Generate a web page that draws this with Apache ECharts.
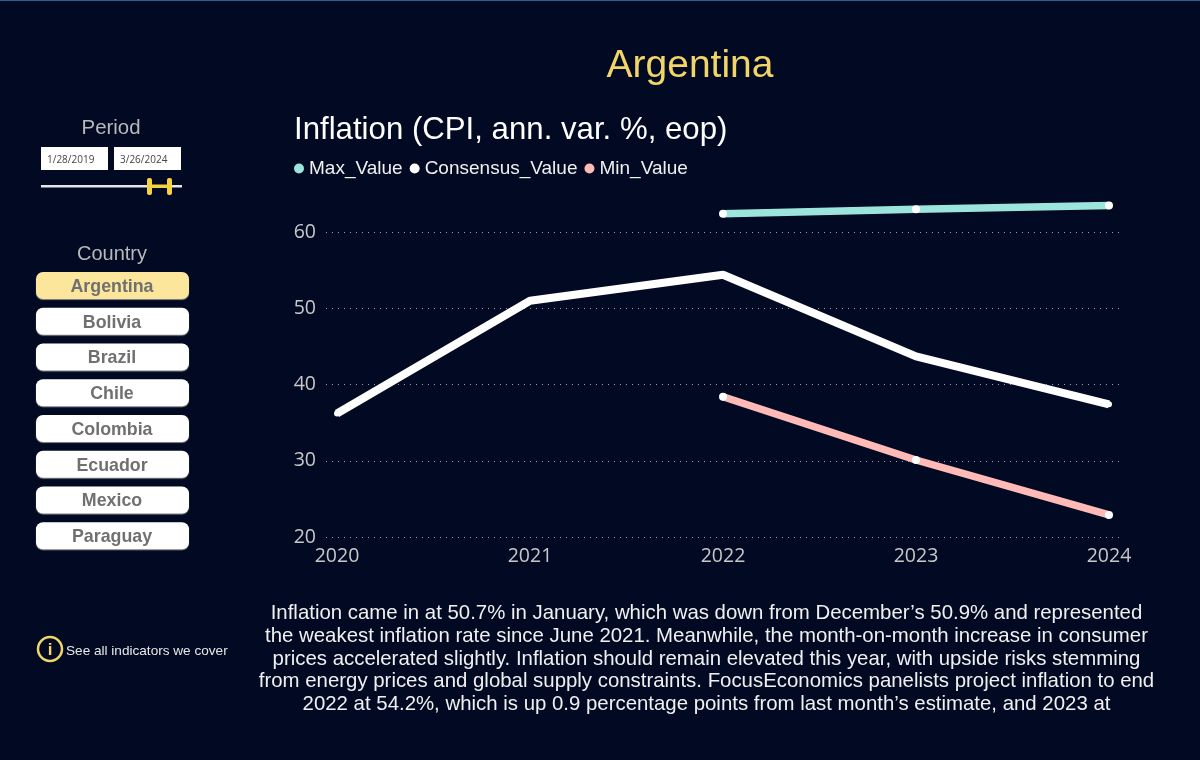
<!DOCTYPE html>
<html>

<head>
    <meta charset="utf-8">
    <title>Argentina inflation</title>
    <script src="https://cdn.jsdelivr.net/npm/echarts@6/dist/echarts.min.js"></script>
    <style>
        body { margin: 0; background: #010a22; }
    </style>
</head>

<body>
    <div id="main" style="width: 1200px;height:760px;"></div>
    <script type="text/javascript">
        var years = [2020, 2021, 2022, 2023, 2024];
        var maxValue = [null, null, 62.4, 63.0, 63.5];
        var consensusValue = [36.2, 51.0, 54.4, 43.7, 37.4];
        var minValue = [null, null, 38.4, 30.1, 22.9];
        var countries = ['Argentina', 'Bolivia', 'Brazil', 'Chile', 'Colombia', 'Ecuador', 'Mexico', 'Paraguay'];
        var dates = ['1/28/2019', '3/26/2024'];
        var commentary = [
            'Inflation came in at 50.7% in January, which was down from December\u2019s 50.9% and represented',
            'the weakest inflation rate since June 2021. Meanwhile, the month-on-month increase in consumer',
            'prices accelerated slightly. Inflation should remain elevated this year, with upside risks stemming',
            'from energy prices and global supply constraints. FocusEconomics panelists project inflation to end',
            '2022 at 54.2%, which is up 0.9 percentage points from last month\u2019s estimate, and 2023 at'
        ];

        var sans = '"Liberation Sans", Arial, sans-serif';
        var tickFont = '"Open Sans", sans-serif';
        var yellow = '#f5d33f';

        function pairs(values) {
            return values.map(function (v, i) { return [years[i], v]; });
        }

        function label(x, y, text, size, color, extra) {
            return {
                type: 'text',
                x: x,
                y: y,
                silent: true,
                style: Object.assign({
                    text: text,
                    font: size + 'px ' + sans,
                    fill: color,
                    align: 'center',
                    verticalAlign: 'middle'
                }, extra || {})
            };
        }

        // left panel + commentary are plain graphic elements
        var graphics = [
            { type: 'rect', shape: { x: 0, y: 0, width: 1200, height: 1 }, style: { fill: '#2b5f94' }, silent: true },
            label(111, 128, 'Period', 20.4, '#b9b9b9'),
            label(112, 254, 'Country', 20, '#b9b9b9'),
            { type: 'rect', shape: { x: 41, y: 147, width: 67, height: 23 }, style: { fill: '#ffffff' }, silent: true },
            { type: 'rect', shape: { x: 114, y: 147, width: 67, height: 23 }, style: { fill: '#ffffff' }, silent: true },
            { type: 'text', x: 47, y: 160, silent: true, style: { text: dates[0], font: '10px ' + tickFont, fill: '#444444', verticalAlign: 'middle' } },
            { type: 'text', x: 120, y: 160, silent: true, style: { text: dates[1], font: '10px ' + tickFont, fill: '#444444', verticalAlign: 'middle' } },
            { type: 'rect', shape: { x: 41, y: 185, width: 141, height: 2.5 }, style: { fill: '#e6e6e6' }, silent: true },
            { type: 'rect', shape: { x: 149, y: 184.5, width: 20, height: 3.5 }, style: { fill: yellow }, silent: true },
            { type: 'rect', shape: { x: 147, y: 178, width: 5, height: 17, r: 2 }, style: { fill: yellow }, silent: true },
            { type: 'rect', shape: { x: 167, y: 178, width: 5, height: 17, r: 2 }, style: { fill: yellow }, silent: true },
            { type: 'circle', shape: { cx: 50, cy: 649, r: 12 }, style: { fill: 'none', stroke: '#f2d568', lineWidth: 2.5 }, silent: true },
            label(50, 650, 'i', 17, '#f2d568', { font: 'bold 17px ' + sans }),
            label(66, 651, 'See all indicators we cover', 13.6, '#e8e8e8', { align: 'left' })
        ];

        countries.forEach(function (name, i) {
            var top = 272 + i * 35.75;
            graphics.push({
                type: 'rect',
                shape: { x: 36, y: top, width: 153, height: 27, r: 7 },
                style: { fill: i === 0 ? '#fbe69c' : '#ffffff', shadowBlur: 1, shadowColor: '#888888', shadowOffsetY: 1 },
                silent: true
            });
            graphics.push(label(112, top + 15, name, 17.8, '#707070', { font: 'bold 17.8px ' + sans }));
        });

        commentary.forEach(function (line, i) {
            graphics.push(label(706.5, 613.5 + i * 22.75, line, 20.4, '#f0f0f0'));
        });

        var myChart = echarts.init(document.getElementById("main"));
        var option = {
            backgroundColor: '#010a22',
            animation: false,
            title: [
                { text: 'Argentina', left: 685, top: 42, textAlign: 'center', textStyle: { color: '#f2d568', fontSize: 39, fontWeight: 'normal', fontFamily: sans } },
                { text: 'Inflation (CPI, ann. var. %, eop)', left: 289, top: 110, textStyle: { color: '#ffffff', fontSize: 31.2, fontWeight: 'normal', fontFamily: sans } }
            ],
            legend: {
                left: 289,
                top: 154,
                icon: 'circle',
                itemWidth: 10,
                itemHeight: 10,
                itemGap: 7,
                textStyle: { color: '#f0f0f0', fontSize: 19, fontFamily: sans },
                data: [
                    { name: 'Max_Value', itemStyle: { color: '#9be5dc' } },
                    { name: 'Consensus_Value', itemStyle: { color: '#ffffff' } },
                    { name: 'Min_Value', itemStyle: { color: '#ffb9b7' } }
                ]
            },
            grid: { left: 326, right: 80, top: 194, bottom: 223 },
            xAxis: {
                type: 'value',
                min: 2019.943,
                max: 2024.057,
                splitLine: { show: false },
                axisLine: { show: false },
                axisTick: { show: false },
                axisLabel: {
                    customValues: years,
                    formatter: function (v) { return String(v); },
                    color: '#c8c8c8',
                    fontSize: 19.5,
                    fontFamily: tickFont,
                    margin: 9,
                    hideOverlap: false
                }
            },
            yAxis: {
                type: 'value',
                min: 20,
                max: 65,
                interval: 10,
                axisLine: { show: false },
                axisTick: { show: false },
                axisLabel: { color: '#c8c8c8', fontSize: 19.5, fontFamily: tickFont, margin: 10, showMaxLabel: false },
                splitLine: { showMaxLine: false, lineStyle: { color: '#9aa0ad', width: 1, type: [1, 5] } }
            },
            series: [
                {
                    name: 'Max_Value',
                    type: 'line',
                    data: pairs(maxValue),
                    symbol: 'circle',
                    symbolSize: 8,
                    itemStyle: { color: '#ffffff' },
                    lineStyle: { color: '#9be5dc', width: 7.5 }
                },
                {
                    name: 'Consensus_Value',
                    type: 'line',
                    data: pairs(consensusValue),
                    symbol: 'circle',
                    symbolSize: 6,
                    itemStyle: { color: '#ffffff' },
                    lineStyle: { color: '#ffffff', width: 8 }
                },
                {
                    name: 'Min_Value',
                    type: 'line',
                    data: pairs(minValue),
                    symbol: 'circle',
                    symbolSize: 8,
                    itemStyle: { color: '#ffffff' },
                    lineStyle: { color: '#ffb9b7', width: 7.5 }
                }
            ],
            graphic: { elements: graphics }
        };

        myChart.setOption(option);
    </script>
</body>

</html>
